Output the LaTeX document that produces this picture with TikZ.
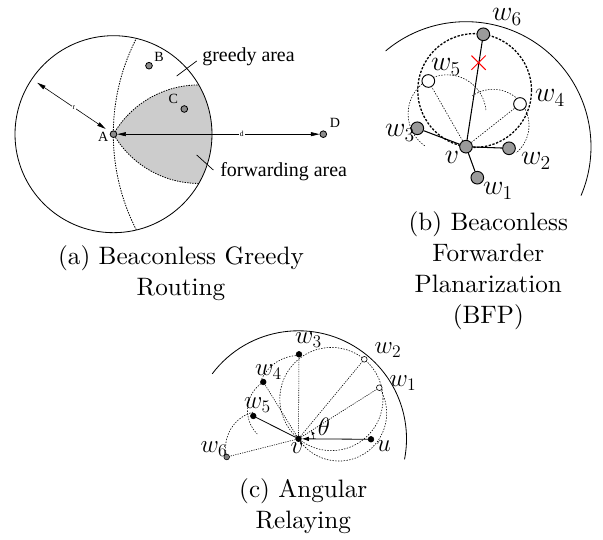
\RequirePackage{fix-cm}
\documentclass[tikz,border=0pt]{standalone}
\usepackage{fontspec}
\setmainfont{lmroman10-regular.otf}[ItalicFont=lmroman10-italic.otf]
\newfontfamily\timesfont{Liberation Serif}
\usetikzlibrary{arrows.meta, calc, shapes.misc, backgrounds}
\definecolor{nodegrey}{HTML}{8C8C8C}
\definecolor{bgrey}{HTML}{9A9A9A}
\definecolor{areagrey}{HTML}{CCCCCC}
\tikzset{
  every picture/.style={line width=0.6pt},
  apt/.style={circle, draw, fill=nodegrey, inner sep=0pt, minimum size=0.2cm, line width=0.7pt},
  bpt/.style={circle, draw, fill=bgrey, inner sep=0pt, minimum size=0.38cm, line width=0.8pt},
  bhid/.style={bpt, fill=white},
  cpt/.style={circle, draw, fill=black, inner sep=0pt, minimum size=0.17cm, line width=0.5pt},
  chid/.style={cpt, fill=white},
  alabel/.style={font=\timesfont\fontsize{12}{14}\selectfont, inner sep=0pt},
  areatext/.style={font=\timesfont\fontsize{17}{20}\selectfont, inner sep=0pt},
  dimlabel/.style={font=\timesfont\fontsize{6.5}{7}\selectfont, fill=white, inner sep=0.8pt},
  blabel/.style={font=\fontsize{24}{28}\selectfont, inner sep=0pt},
  clabel/.style={font=\fontsize{21.5}{25}\selectfont, inner sep=0pt},
  captext/.style={font=\fontsize{21.5}{26.5}\selectfont, align=center, inner sep=0pt},
  dimarrow/.style={{Triangle[length=2.6mm,width=1.2mm]}-{Triangle[length=2.6mm,width=1.2mm]}, line width=0.5pt},
  bound/.style={dash pattern=on 1.2pt off 1pt, line width=0.7pt},
  gabb/.style={dash pattern=on 2pt off 1.3pt, line width=1.1pt},
  gab/.style={dash pattern=on 1.2pt off 1.2pt, line width=0.5pt},
  ray/.style={dash pattern=on 1pt off 1pt, line width=0.5pt},
}

\begin{document}
\begin{tikzpicture}[x=0.03cm, y=0.03cm]
  \useasboundingbox (0,0) rectangle (603,540);

  % (a) greedy area and forwarding area
  \node[apt] (A) at (113.5,405.8) {};
  \node[apt] (B) at (149,474.3) {};
  \node[apt] (C) at (184.3,431) {};
  \node[apt] (D) at (323.3,405.8) {};
  \node[alabel] (labA) at (103.3,403.3) {A};
  \node[alabel] (labB) at (159,483.3) {B};
  \node[alabel] (labC) at (173.3,440.7) {C};
  \node[alabel] (labD) at (335,417.3) {D};
  \coordinate (P2) at (198.8,356.55);
  \begin{scope}[on background layer]
    \fill[areagrey] (A.center) arc[start angle=150, end angle=90, radius=98.5]
      arc[start angle=30, end angle=-30, radius=98.5]
      arc[start angle=270, end angle=210, radius=98.5] -- cycle;
    \draw[bound] (A.center) arc[start angle=150, end angle=90, radius=98.5];
    \draw[bound] (P2) arc[start angle=270, end angle=210, radius=98.5];
    \draw[line width=0.7pt] (A.center) circle[radius=98.5];
    \begin{scope}
      \clip (A.center) circle[radius=98.5];
      \draw[bound] (D.center) circle[radius=210];
    \end{scope}
  \end{scope}
  \coordinate (rend) at ($(A)+(146:92)$);
  \draw[dimarrow, shorten >=4.9pt] (rend) -- node[dimlabel] (rlab) {r} (A);
  \draw[dimarrow] (A) -- node[dimlabel, pos=0.615] (dlab) {d} (D);
  \node[areatext, anchor=base west] (greedy) at (202,478.3) {greedy area};
  \node[areatext, anchor=base west] (fwd) at (220,363.3) {forwarding area};
  \coordinate (gin) at (176.7,464);
  \coordinate (gout) at (196.7,479);
  \coordinate (fin) at (196.7,385);
  \coordinate (fout) at (213.3,370);
  \draw (gin) -- (gout);
  \draw (fin) -- (fout);
  \node[captext] (capa) at (181,266.5) {(a) Beaconless Greedy\\Routing};

  % (b) beaconless forwarder planarization
  \node[bpt] (bv) at (466,393.3) {};
  \node[bpt] (bw1) at (477.3,362.3) {};
  \node[bpt] (bw2) at (509,391.7) {};
  \node[bpt] (bw3) at (417.3,411.7) {};
  \node[bhid] (bw4) at (520,436) {};
  \node[bhid] (bw5) at (428.3,459) {};
  \node[bpt] (bw6) at (483.3,505.7) {};
  \begin{scope}[on background layer]
    \draw[line width=0.7pt] (bv.center) ++(130:125) arc[start angle=130, end angle=-23, radius=125];
    \draw[gabb] ($(bv)!0.5!(bw6)$) circle[radius=56.9];
    \draw[gab] ($(bv)!0.5!(bw5)$) ++(235:39) arc[start angle=235, end angle=5, radius=39];
    \draw[gab] ($(bv)!0.5!(bw4)$) ++(125:36) arc[start angle=125, end angle=-50, radius=36];
    \draw[gab] (bv) -- (bw5);
    \draw[gab] (bv) -- (bw4);
  \end{scope}
  \draw[line width=0.9pt] (bv) -- (bw6);
  \draw[line width=0.9pt] (bv) -- (bw3);
  \draw[line width=0.9pt] (bv) -- (bw2);
  \draw[line width=0.9pt] (bv) -- (bw1);
  \node[draw=red, cross out, minimum size=0.4cm, inner sep=0pt, line width=0.8pt] (cut) at (478.6,477.3) {};
  \node[blabel] (lbw6) at (507,523) {$w_6$};
  \node[blabel] (lbw5) at (446,473) {$w_5$};
  \node[blabel] (lbw4) at (550,442) {$w_4$};
  \node[blabel] (lbw3) at (400,407) {$w_3$};
  \node[blabel] (lbv) at (452,383) {$v$};
  \node[blabel] (lbw2) at (536,379) {$w_2$};
  \node[blabel] (lbw1) at (498,349) {$w_1$};
  \node[captext] (capb) at (488.3,269.6) {(b) Beaconless\\Forwarder\\Planarization\\(BFP)};

  % (c) angular relaying
  \node[cpt] (cv) at (298.5,101.2) {};
  \node[cpt] (cu) at (371,100.7) {};
  \node[chid] (cw1) at (379.3,152.3) {};
  \node[chid] (cw2) at (364.3,180.7) {};
  \node[cpt] (cw3) at (299,185.7) {};
  \node[cpt] (cw4) at (263.3,158) {};
  \node[cpt] (cw5) at (253.3,124) {};
  \node[cpt, fill=gray] (cw6) at (226.7,83) {};
  \begin{scope}[on background layer]
    \draw[line width=0.7pt] (cv.center) ++(143:108) arc[start angle=143, end angle=-11, radius=108];
    \draw[gab] ($(cv)!0.5!(cw2)$) circle[radius=51.6];
    \draw[gab] ($(cv)!0.5!(cw1)$) ++(32:47.8) arc[start angle=32, end angle=-148, radius=47.8];
    \draw[gab] ($(cv)!0.5!(cw3)$) ++(90:41) arc[start angle=90, end angle=155, radius=41];
    \draw[gab] ($(cv)!0.5!(cw4)$) ++(122:33.4) arc[start angle=122, end angle=225, radius=33.4];
    \draw[gab] ($(cv)!0.5!(cw6)$) ++(194:37) arc[start angle=194, end angle=105, radius=37];
    \draw[ray] (cv) -- (cw1);
    \draw[ray] (cv) -- (cw2);
    \draw[ray] (cv) -- (cw3);
    \draw[ray] (cv) -- (cw4);
    \draw[ray] (cv) -- (cw6);
  \end{scope}
  \draw[line width=0.7pt] (cv) -- (cw5);
  \draw[-{Latex[length=2.2mm,width=1.4mm]}, line width=0.7pt] (cu) -- (cv);
  \draw[-{Latex[length=1.2mm,width=1mm]}, line width=0.5pt] ($(cv)+(0:15)$) arc[start angle=0, end angle=32, radius=15];
  \node[clabel] (ltheta) at (324,113) {$\theta$};
  \node[clabel] (lcw3) at (308.5,200) {$w_3$};
  \node[clabel] (lcw2) at (388,190) {$w_2$};
  \node[clabel] (lcw1) at (403,157) {$w_1$};
  \node[clabel] (lcw4) at (268.5,168) {$w_4$};
  \node[clabel] (lcw5) at (257.5,135) {$w_5$};
  \node[clabel] (lcw6) at (214,91) {$w_6$};
  \node[clabel] (lcv) at (297,92) {$v$};
  \node[clabel] (lcu) at (384,94) {$u$};
  \node[captext] (capc) at (303.3,33.7) {(c) Angular\\Relaying};
\end{tikzpicture}
\end{document}
